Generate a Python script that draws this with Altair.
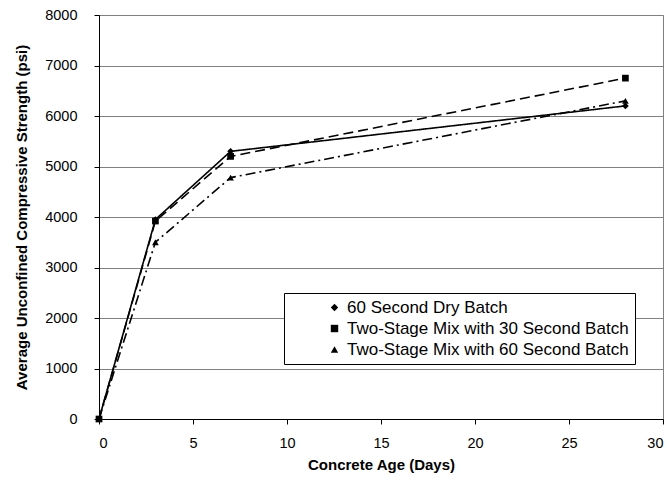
import altair as alt
import pandas as pd

days = [0, 3, 7, 28]
series_names = [
    "60 Second Dry Batch",
    "Two-Stage Mix with 30 Second Batch",
    "Two-Stage Mix with 60 Second Batch",
]
dry_60 = [0, 3950, 5300, 6200]
two_stage_30 = [0, 3920, 5200, 6750]
two_stage_60 = [0, 3500, 4780, 6300]

rows = []
for name, vals in zip(series_names, [dry_60, two_stage_30, two_stage_60]):
    for d, v in zip(days, vals):
        rows.append({"Age": d, "Strength": v, "Series": name})
df = pd.DataFrame(rows)

FONT = "Liberation Sans"

x = alt.X("Age:Q", scale=alt.Scale(domain=[0, 30], nice=False),
          axis=alt.Axis(values=[0, 5, 10, 15, 20, 25, 30], format="d",
                        title="Concrete Age (Days)", grid=False,
                        titleX=282, titleY=45, titleBaseline="middle",
                        labelPadding=12))
y = alt.Y("Strength:Q", scale=alt.Scale(domain=[0, 8000], nice=False),
          axis=alt.Axis(values=list(range(0, 8001, 1000)), format="d",
                        title="Average Unconfined Compressive Strength (psi)",
                        titleX=-78, titleY=202, titleBaseline="middle",
                        labelPadding=17))

dash = alt.StrokeDash("Series:N", sort=series_names,
                      scale=alt.Scale(domain=series_names,
                                      range=[[1, 0], [10, 5], [10, 4, 2, 4]]),
                      legend=alt.Legend(title=None, orient="none", legendX=185, legendY=278,
                                        fillColor="white", strokeColor="black",
                                        padding=6, labelFontSize=17, rowPadding=3,
                                        labelLimit=0, symbolOffset=36,
                                        symbolSize=55, symbolFillColor="black",
                                        symbolStrokeColor="black",
                                        labelFont=FONT, labelColor="black"))
shape = alt.Shape("Series:N", sort=series_names,
                  scale=alt.Scale(domain=series_names,
                                  range=["diamond", "square", "triangle-up"]))

lines = alt.Chart(df).mark_line(color="black", strokeWidth=1.6).encode(
    x=x, y=y, strokeDash=dash, detail="Series:N")
points = alt.Chart(df).mark_point(filled=True, color="black", size=45, opacity=1).encode(
    x=x, y=y, shape=shape)

chart = alt.layer(lines, points).properties(
    width=564, height=404,
    autosize=alt.AutoSizeParams(type="none"),
    padding={"left": 91, "top": 7, "right": 1, "bottom": 54},
).configure_view(stroke="#808080", strokeWidth=1).configure_axis(
    labelFont=FONT, titleFont=FONT, labelFontSize=14.5, titleFontSize=15,
    labelColor="black", titleColor="black", titleFontWeight="bold",
    domainColor="black", tickColor="black", tickSize=5,
    gridColor="#808080", gridWidth=1,
)

chart.save("out.html", embed_options={"renderer": "svg", "actions": False})
